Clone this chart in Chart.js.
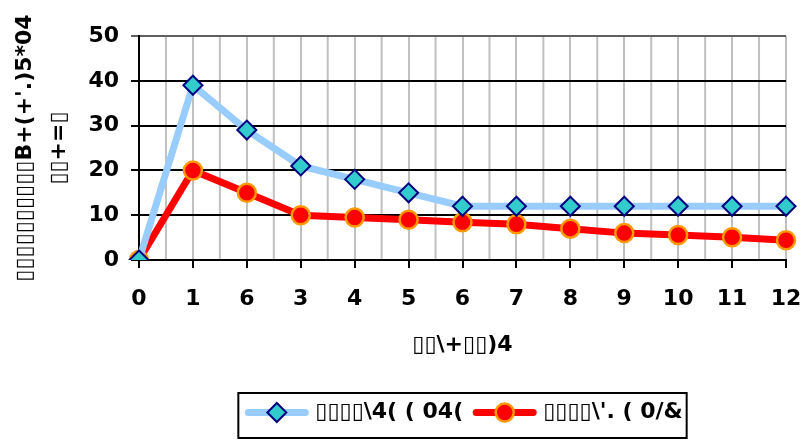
<!DOCTYPE html>
<html><head><meta charset="utf-8">
<script src="https://cdn.jsdelivr.net/npm/chart.js@4/dist/chart.umd.min.js"></script>
<style>html,body{margin:0;padding:0;background:#fff}#wrap{width:805px;height:444px}</style>
</head><body><div id="wrap"><canvas id="c" width="805" height="444"></canvas></div>
<script>
const categories = ['0','1','6','3','4','5','6','7','8','9','10','11','12'];
const seriesA = [0,39,29,21,18,15,12,12,12,12,12,12,12];
const seriesB = [0,20,15,10,9.5,9,8.4,8,7,6,5.6,5.1,4.4];
const seriesNames = ['▯▯▯▯\\4( ( 04(', '▯▯▯▯\\\'. ( 0/&'];
const yTicks = [0,10,20,30,40,50];
const yTitle = ['▯▯▯▯▯▯▯▯▯▯B+(+\'.)5*04', '▯▯+=▯'];
const xTitle = '▯▯\\+▯▯)4';

const FONT = '"DejaVu Sans", sans-serif';
const FS = 22;

const halfGrid = {
  id: 'halfGrid',
  beforeDraw(chart) {
    const x = chart.scales.x, a = chart.chartArea, ctx = chart.ctx;
    ctx.save();
    ctx.strokeStyle = '#C0C0C0';
    ctx.lineWidth = 2;
    for (let i = 0; i < categories.length - 1; i++) {
      const px = (x.getPixelForValue(i) + x.getPixelForValue(i + 1)) / 2;
      ctx.beginPath(); ctx.moveTo(px, a.top); ctx.lineTo(px, a.bottom); ctx.stroke();
    }
    ctx.strokeStyle = '#808080';
    ctx.beginPath(); ctx.moveTo(a.right, a.top); ctx.lineTo(a.right, a.bottom); ctx.stroke();
    ctx.restore();
  }
};

const customLegend = {
  id: 'customLegend',
  afterDraw(chart) {
    const ctx = chart.ctx, a = chart.chartArea;
    ctx.save();
    ctx.font = 'bold ' + FS + 'px ' + FONT;
    ctx.textBaseline = 'middle';
    const lineLen = 63, gapText = 7, gapItem = 10, padL = 7, padR = 4;
    const widths = seriesNames.map(n => ctx.measureText(n).width);
    let total = padL + padR;
    widths.forEach((w, i) => { total += lineLen + gapText + w + (i ? gapItem : 0); });
    const cx = (a.left + a.right) / 2;
    const left = cx - total / 2, top = 393, h = 45, cy = top + h / 2 - 3;
    ctx.strokeStyle = '#000'; ctx.lineWidth = 2;
    ctx.strokeRect(left, top, total, h);
    let x = left + padL;
    chart.data.datasets.forEach((ds, i) => {
      if (i) x += gapItem;
      ctx.strokeStyle = ds.borderColor; ctx.lineWidth = ds.borderWidth; ctx.lineCap = 'round';
      ctx.beginPath(); ctx.moveTo(x + 3, cy); ctx.lineTo(x + lineLen - 3, cy); ctx.stroke();
      const mx = x + lineLen / 2, r = ds.pointRadius;
      ctx.fillStyle = ds.pointBackgroundColor; ctx.strokeStyle = ds.pointBorderColor; ctx.lineWidth = ds.pointBorderWidth;
      ctx.beginPath();
      if (ds.pointStyle === 'rectRot') {
        ctx.moveTo(mx, cy - r); ctx.lineTo(mx + r, cy); ctx.lineTo(mx, cy + r); ctx.lineTo(mx - r, cy); ctx.closePath();
      } else {
        ctx.arc(mx, cy, r, 0, Math.PI * 2);
      }
      ctx.fill(); ctx.stroke();
      x += lineLen + gapText;
      ctx.fillStyle = '#000';
      ctx.fillText(seriesNames[i], x, cy);
      x += widths[i];
    });
    ctx.restore();
  }
};

new Chart(document.getElementById('c'), {
  type: 'line',
  data: {
    labels: categories,
    datasets: [
      { label: seriesNames[0], data: seriesA, borderColor: '#99CCFF', borderWidth: 7,
        pointStyle: 'rectRot', pointRadius: 9.5, pointBackgroundColor: '#33CCCC', pointBorderColor: '#000080',
        pointBorderWidth: 2, tension: 0, fill: false },
      { label: seriesNames[1], data: seriesB, borderColor: '#FF0000', borderWidth: 7,
        pointStyle: 'circle', pointRadius: 9, pointBackgroundColor: '#FF0000', pointBorderColor: '#FF9900',
        pointBorderWidth: 2.5, tension: 0, fill: false }
    ]
  },
  options: {
    responsive: false,
    animation: false,
    devicePixelRatio: 1,
    layout: { padding: { left: 0, top: 36, right: 19, bottom: 84 } },
    plugins: { legend: { display: false }, tooltip: { enabled: false } },
    scales: {
      x: {
        type: 'category',
        offset: false,
        afterFit(s) { s.height = 100; s.paddingLeft = 0; s.paddingRight = 0; },
        grid: { color: '#C0C0C0', lineWidth: 2, tickLength: 8, tickColor: '#000', tickWidth: 2, drawOnChartArea: true },
        border: { color: '#000', width: 2 },
        ticks: { color: '#000', font: { family: FONT, size: FS, weight: 'bold' }, padding: 18, maxRotation: 0, autoSkip: false },
        title: { display: true, text: xTitle, color: '#000', font: { family: FONT, size: FS, weight: 'bold' }, padding: { top: 0, bottom: 2 } }
      },
      y: {
        min: 0, max: 50,
        afterFit(s) { s.width = 139; },
        afterBuildTicks(s) { s.ticks = yTicks.map(v => ({ value: v })); },
        grid: { color: ctx => (ctx.tick && ctx.tick.value === 50) ? '#606060' : '#000', lineWidth: 2, tickLength: 8 },
        border: { color: '#000', width: 2 },
        ticks: { color: '#000', font: { family: FONT, size: FS, weight: 'bold' }, padding: 12 },
        title: { display: true, text: yTitle, color: '#000', font: { family: FONT, size: FS, weight: 'bold', lineHeight: 1.55 }, padding: { top: 8, bottom: 0 } }
      }
    }
  },
  plugins: [halfGrid, customLegend]
});
</script>
</body></html>
